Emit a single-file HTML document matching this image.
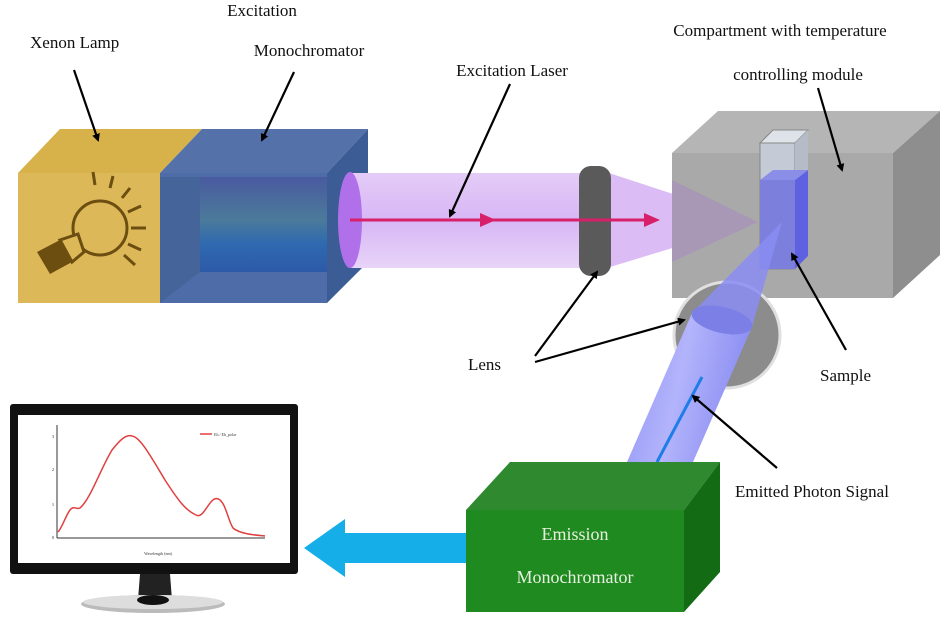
<!DOCTYPE html>
<html><head><meta charset="utf-8"><style>
html,body{margin:0;padding:0;background:#fff;width:947px;height:626px;overflow:hidden}
text{font-family:"Liberation Serif",serif;font-size:17px;fill:#111}
</style></head><body>
<svg width="947" height="626" viewBox="0 0 947 626" xmlns="http://www.w3.org/2000/svg">
<defs>
<marker id="ah" markerWidth="8" markerHeight="8" refX="6" refY="4" orient="auto" markerUnits="userSpaceOnUse"><path d="M0,0 L8,4 L0,8 z" fill="#000"/></marker>
<linearGradient id="mono" x1="0" y1="0" x2="0" y2="1"><stop offset="0" stop-color="#4a5aa0"/><stop offset="0.45" stop-color="#4b7a9a"/><stop offset="0.7" stop-color="#2f6ab0"/><stop offset="1" stop-color="#2d5aa8"/></linearGradient>
<linearGradient id="beam" x1="0" y1="0" x2="0" y2="1"><stop offset="0" stop-color="#e4ccf7"/><stop offset="0.5" stop-color="#d7b6f5"/><stop offset="1" stop-color="#e8d4f9"/></linearGradient>
<linearGradient id="emb" x1="0" y1="0" x2="1" y2="0.25"><stop offset="0" stop-color="#8f92f5"/><stop offset="0.5" stop-color="#b3b4fb"/><stop offset="1" stop-color="#8a8df2"/></linearGradient>
</defs>
<!-- Xenon lamp box -->
<polygon points="18,173 60,129 202,129 160,173" fill="#d7b24a"/>
<rect x="18" y="173" width="142" height="130" fill="#dcb858"/>
<g fill="none" stroke="#6b4e10" stroke-width="3">
<circle cx="100" cy="228" r="27"/>
<line x1="95" y1="185" x2="93" y2="172"/><line x1="110" y1="188" x2="113" y2="176"/><line x1="122" y1="198" x2="130" y2="188"/><line x1="128" y1="212" x2="141" y2="206"/><line x1="131" y1="228" x2="146" y2="228"/><line x1="128" y1="244" x2="141" y2="250"/><line x1="124" y1="255" x2="135" y2="265"/>
</g>
<polygon points="37,252 60,240 72,262 50,274" fill="#6b4e10"/>
<polygon points="60,240 78,234 84,252 72,262" fill="#dcb858" stroke="#6b4e10" stroke-width="3"/>
<!-- blue monochromator -->
<polygon points="160,173 202,129 368,129 327,173" fill="#5471aa"/>
<polygon points="327,173 368,129 368,262 327,303" fill="#3b5c94"/>
<rect x="160" y="173" width="167" height="130" fill="#4e6ca8"/>
<polygon points="160,177 200,177 200,272 160,303" fill="#44649a"/>
<rect x="200" y="177" width="127" height="95" fill="url(#mono)"/>
<polygon points="200,272 327,272 327,303 160,303" fill="#4d6ca8"/>
<!-- laser beam -->
<rect x="350" y="173" width="240" height="95" fill="url(#beam)"/>
<ellipse cx="350" cy="220" rx="12" ry="48" fill="#b070ea"/>
<polygon points="600,170 600,270 758,222" fill="#cfa6f0" opacity="0.75"/>
<!-- compartment -->
<polygon points="672,153 718,111 940,111 893,153" fill="#b5b5b5"/>
<polygon points="893,153 940,111 940,255 893,298" fill="#8e8e8e"/>
<rect x="672" y="153" width="221" height="145" fill="#a9a9a9"/>
<polygon points="672,180 758,222 672,262" fill="#a893b8" opacity="0.8"/>
<!-- cuvette -->
<polygon points="760,143 773,130 808,130 795,143" fill="#dde3e8" stroke="#888" stroke-width="1"/>
<rect x="760" y="143" width="35" height="126" fill="#c5cbd6" stroke="#888" stroke-width="1"/>
<polygon points="795,143 808,130 808,256 795,269" fill="#b5bcc8"/>
<rect x="760" y="180" width="35" height="89" fill="#7c80dc"/>
<polygon points="795,180 808,170 808,256 795,269" fill="#5e62e0"/>
<polygon points="760,180 773,170 808,170 795,180" fill="#8b8ee6"/>
<!-- lens -->
<rect x="579" y="166" width="32" height="110" rx="12" fill="#5a5a5a"/>
<!-- red laser line -->
<line x1="350" y1="220" x2="652" y2="220" stroke="#d8206a" stroke-width="3"/>
<polygon points="480,213 496,220 480,227" fill="#d8206a"/>
<polygon points="644,213 660,220 644,227" fill="#d8206a"/>
<!-- emission lens -->
<circle cx="727" cy="335" r="53" fill="#8c8c8c" stroke="#e0e0e0" stroke-width="3"/>
<polygon points="782,222 692,313 752,327" fill="#8a8df2" opacity="0.85"/>
<polygon points="692,313 752,327 693,462 627,462" fill="url(#emb)"/>
<ellipse cx="722" cy="320" rx="31" ry="13" transform="rotate(13 722 320)" fill="#7c7fe6"/>
<line x1="702" y1="377" x2="657" y2="462" stroke="#1e7de8" stroke-width="3"/>
<!-- green box -->
<polygon points="466,510 510,462 720,462 684,510" fill="#2f8a2f"/>
<polygon points="684,510 720,462 720,572 684,612" fill="#136b13"/>
<rect x="466" y="510" width="218" height="102" fill="#1f8a1f"/>
<text x="575" y="540" text-anchor="middle" style="fill:#e8f0e0;font-size:18px">Emission</text>
<text x="575" y="583" text-anchor="middle" style="fill:#e8f0e0;font-size:18px">Monochromator</text>
<!-- cyan arrow -->
<polygon points="466,533 345,533 345,519 304,548 345,577 345,563 466,563" fill="#15aee8"/>
<!-- monitor -->
<rect x="10" y="404" width="288" height="170" rx="3" fill="#111"/>
<rect x="18" y="415" width="272" height="148" fill="#fff"/>
<polygon points="140,574 170,574 172,600 138,600" fill="#222"/>
<ellipse cx="153" cy="604" rx="72" ry="9" fill="#bbb"/>
<ellipse cx="153" cy="602" rx="70" ry="7" fill="#ddd"/>
<ellipse cx="153" cy="600" rx="16" ry="5" fill="#111"/>
<g stroke="#333" stroke-width="1" fill="none">
<line x1="57" y1="425" x2="57" y2="538"/><line x1="57" y1="538" x2="265" y2="538"/>
</g>
<path d="M58,532 C62,528 66,515 70,510 C74,505 76,510 80,508 C90,500 100,470 112,450 C120,440 126,434 132,436 C140,437 150,455 165,480 C178,500 185,510 196,515 C205,520 210,492 220,500 C226,505 228,520 233,528 C240,534 255,535 265,536" fill="none" stroke="#e04040" stroke-width="1.5"/>
<line x1="200" y1="434" x2="212" y2="434" stroke="#e04040" stroke-width="1.5"/>
<text x="214" y="436" style="font-size:4px;fill:#333">Eh / Eh_polar</text>
<text x="158" y="555" text-anchor="middle" style="font-size:4px;fill:#333">Wavelength (nm)</text>
<text x="52" y="539" style="font-size:4px">0</text><text x="52" y="506" style="font-size:4px">1</text><text x="52" y="471" style="font-size:4px">2</text><text x="52" y="438" style="font-size:4px">3</text>
<!-- labels -->
<text x="30" y="48">Xenon Lamp</text>
<text x="262" y="16" text-anchor="middle">Excitation</text>
<text x="309" y="56" text-anchor="middle">Monochromator</text>
<text x="512" y="76" text-anchor="middle">Excitation Laser</text>
<text x="780" y="36" text-anchor="middle">Compartment with temperature</text>
<text x="798" y="80" text-anchor="middle">controlling module</text>
<text x="468" y="370">Lens</text>
<text x="820" y="381">Sample</text>
<text x="735" y="497">Emitted Photon Signal</text>
<g stroke="#000" stroke-width="2.2" marker-end="url(#ah)">
<line x1="74" y1="70" x2="98" y2="140"/>
<line x1="294" y1="72" x2="262" y2="140"/>
<line x1="510" y1="84" x2="450" y2="216"/>
<line x1="818" y1="88" x2="842" y2="170"/>
<line x1="535" y1="356" x2="597" y2="272"/>
<line x1="535" y1="362" x2="684" y2="320"/>
<line x1="846" y1="350" x2="792" y2="254"/>
<line x1="777" y1="468" x2="693" y2="396"/>
</g>
</svg>
</body></html>
